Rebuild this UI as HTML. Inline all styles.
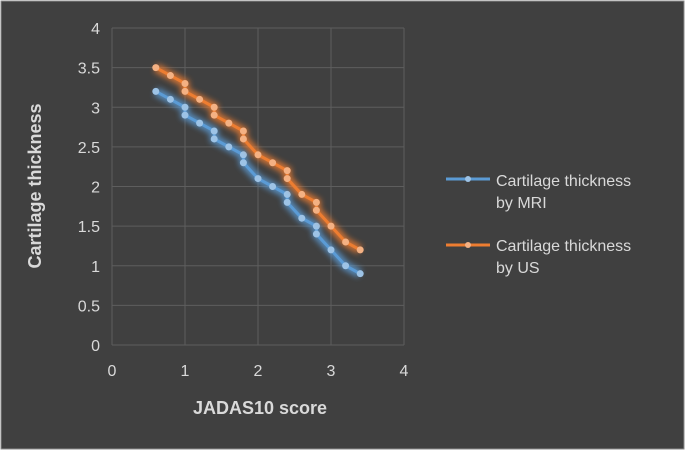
<!DOCTYPE html>
<html><head><meta charset="utf-8"><style>
html,body{margin:0;padding:0;background:#fff;}
#c{width:685px;height:450px;position:relative;}
svg text{font-family:"Liberation Sans",sans-serif;fill:#d9d9d9;}
</style></head><body>
<div id="c">
<svg id="s" width="685" height="450" xmlns="http://www.w3.org/2000/svg">
<defs>
<filter id="gb" x="-20%" y="-20%" width="140%" height="140%"><feGaussianBlur stdDeviation="3"/></filter>
</defs>
<rect x="1" y="1" width="683" height="448" fill="#404040" stroke="#8a8a8a" stroke-width="1"/>
<g id="grid"></g><g id="ticks"></g><g id="series"></g>
<text x="260" y="414" font-size="18" font-weight="bold" text-anchor="middle">JADAS10 score</text>
<text transform="translate(41,186) rotate(-90)" font-size="18" font-weight="bold" text-anchor="middle">Cartilage thickness</text>
<g>
<line x1="446" y1="179" x2="490" y2="179" stroke="#5b9bd5" stroke-width="3"/><circle cx="468" cy="179" r="3" fill="#9dc3e6"/>
<text x="496" y="186" font-size="16">Cartilage thickness</text>
<text x="496" y="208" font-size="16">by MRI</text>
<line x1="446" y1="245" x2="490" y2="245" stroke="#ed7d31" stroke-width="3"/><circle cx="468" cy="245" r="3" fill="#f4b183"/>
<text x="496" y="251" font-size="16">Cartilage thickness</text>
<text x="496" y="273" font-size="16">by US</text>
</g>
</svg></div>
<script>
const xValues=[0.6,0.8,1,1,1.2,1.4,1.4,1.6,1.8,1.8,2,2.2,2.4,2.4,2.6,2.8,2.8,3,3.2,3.4];
const mriValues=[3.2,3.1,3.0,2.9,2.8,2.7,2.6,2.5,2.4,2.3,2.1,2.0,1.9,1.8,1.6,1.5,1.4,1.2,1.0,0.9];
const usValues=[3.5,3.4,3.3,3.2,3.1,3.0,2.9,2.8,2.7,2.6,2.4,2.3,2.2,2.1,1.9,1.8,1.7,1.5,1.3,1.2];
const xTicks=[0,1,2,3,4];
const yTicks=[0,0.5,1,1.5,2,2.5,3,3.5,4];
const NS="http://www.w3.org/2000/svg";
const X=v=>112+v*73, Y=v=>345-v*79.25;
function mk(t,a,p){const e=document.createElementNS(NS,t);for(const k in a)e.setAttribute(k,a[k]);p.appendChild(e);return e;}
const grid=document.getElementById('grid'),ticks=document.getElementById('ticks'),ser=document.getElementById('series');
yTicks.forEach(v=>{
 const l=mk('line',{x1:X(0),x2:X(4),y1:Y(v),y2:Y(v),stroke:'#5e5e5e','stroke-width':1},grid);
 
 
 const t=mk('text',{x:100,y:Y(v)+6,'font-size':16,'text-anchor':'end'},ticks);t.textContent=v;
 
 
});
xTicks.forEach(v=>{
 const l=mk('line',{x1:X(v),x2:X(v),y1:Y(0),y2:Y(4),stroke:'#5e5e5e','stroke-width':1},grid);
 
 
 const t=mk('text',{x:X(v),y:376,'font-size':16,'text-anchor':'middle'},ticks);t.textContent=v;
 
 
});
function draw(vals,col,pt,name){
 const g=mk('g',{},ser);
 
 
 const d=vals.map((v,i)=>(i?'L':'M')+X(xValues[i])+' '+Y(v)).join(' ');
 mk('path',{d:d,fill:'none',stroke:col,'stroke-width':9,opacity:0.8,filter:'url(#gb)'},g);
 mk('path',{d:d,fill:'none',stroke:col,'stroke-width':3,'stroke-linejoin':'round'},g);
 vals.forEach((v,i)=>{const c=mk('circle',{cx:X(xValues[i]),cy:Y(v),r:3.5,fill:pt},g);
  
  });
}
draw(mriValues,'#5b9bd5','#9dc3e6','series-mri');
draw(usValues,'#ed7d31','#f4b183','series-us');
</script>
</body></html>
